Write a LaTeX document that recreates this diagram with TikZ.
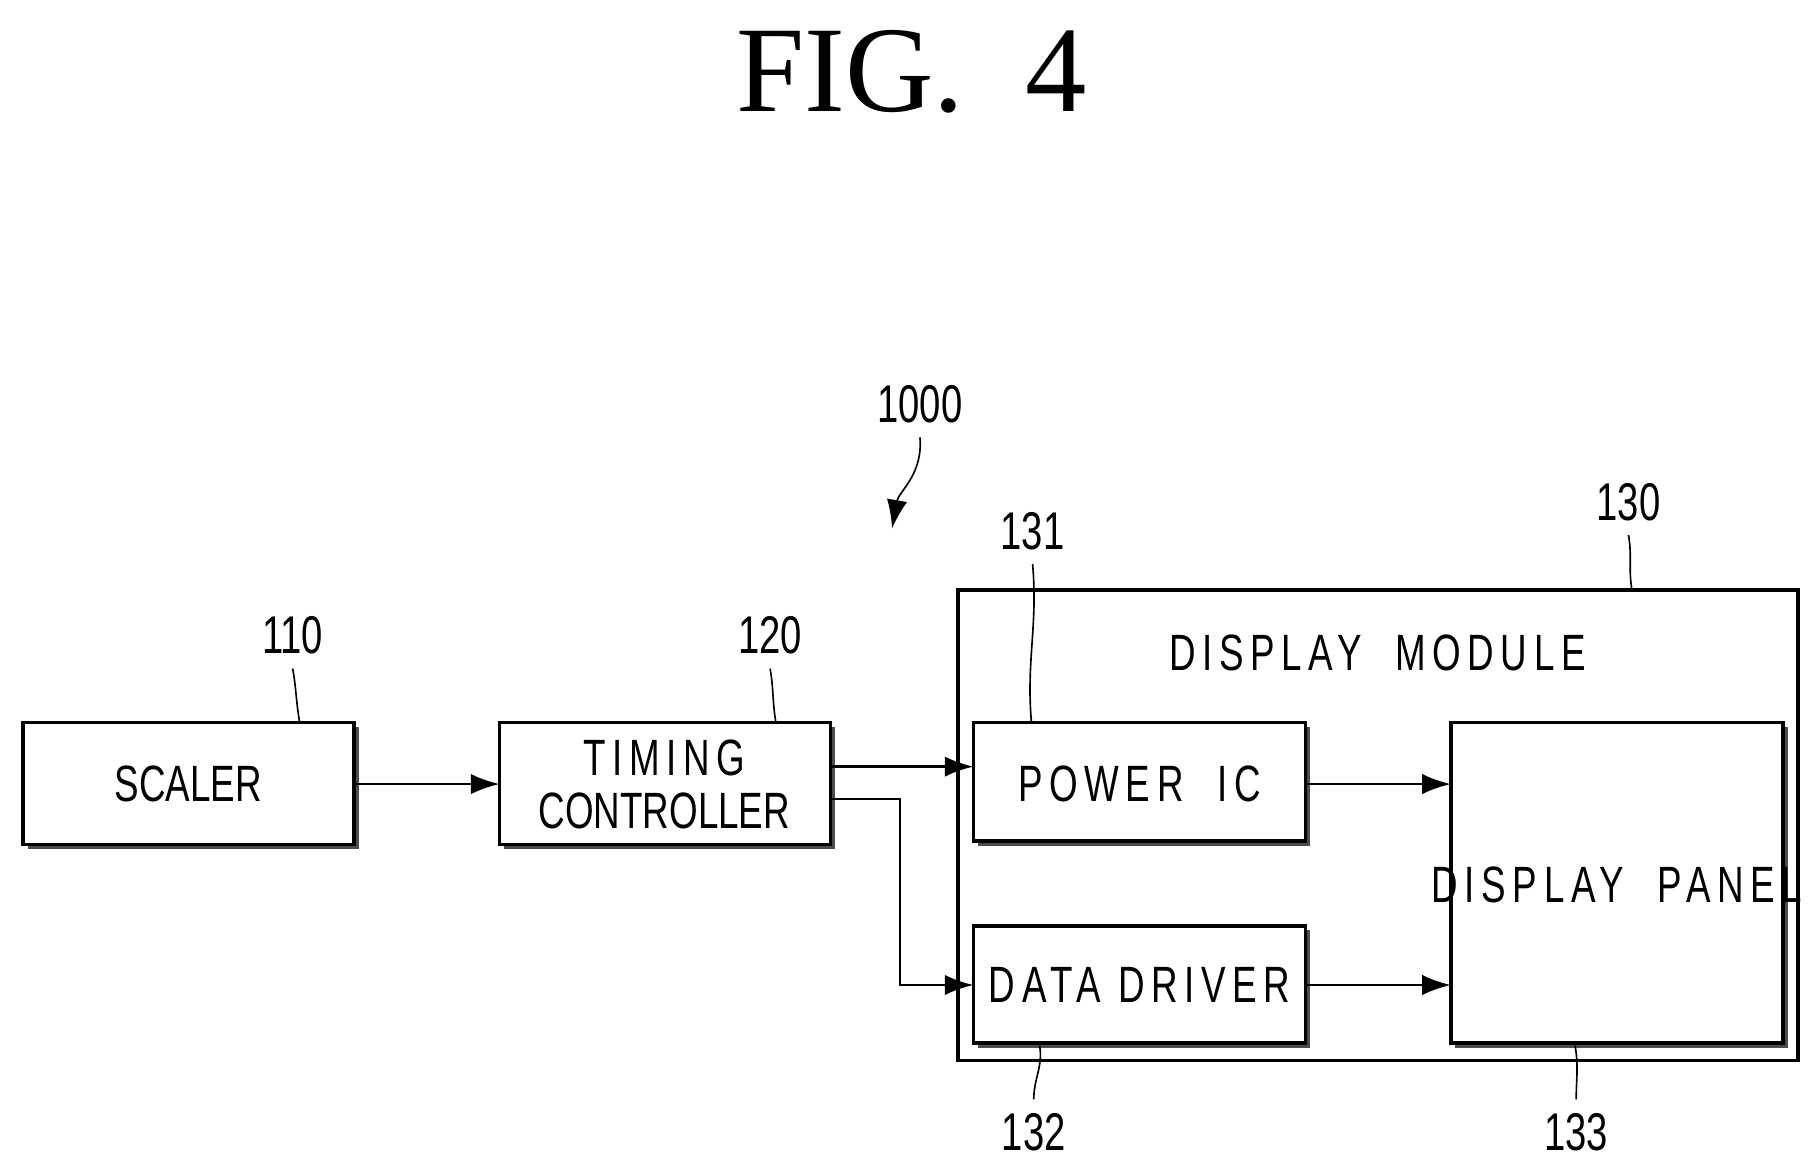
\documentclass[tikz,border=0pt]{standalone}
\usepackage{fontspec}
\setmainfont{Liberation Serif}
\newfontfamily\boxfont{Liberation Sans}
\newfontfamily\spacedfont[LetterSpace=18]{Liberation Sans}
\usetikzlibrary{arrows.meta}
\newcommand{\nar}[1]{\scalebox{0.72}[1]{#1}}

\begin{document}
\begin{tikzpicture}[x=0.01cm,y=-0.01cm,
  blk/.style={draw,line width=0.9pt,fill=white},
  shd/.style={fill=black!70},
  lbl/.style={font=\spacedfont\fontsize{12.5}{16}\selectfont},
  num/.style={font=\boxfont\fontsize{13}{15}\selectfont},
  arr/.style={-{Latex[length=7pt,width=5pt]},line width=0.6pt},
  lead/.style={line width=0.4pt}]
  \useasboundingbox (0,0) rectangle (1560,1005.6);

  \node[font=\fontsize{30}{34}\selectfont] (title) at (785,62) {FIG.\ \ 4};

  % outer module
  \draw[line width=0.9pt] (825,508) rectangle (1548,913);
  \node[lbl] (dm) at (1186,562) {\nar{DISPLAY\ \ MODULE}};

  % blocks with shadow
  \foreach \n/\a/\b/\c/\d in {sc/20/622/305/727, tc/430/622/715/727, pw/838/622/1124/724, dd/838/797/1124/898, dp/1249/622/1535/898}{
    \fill[shd] (\a+4,\b+4) rectangle (\c+4,\d+4);
    \draw[blk] (\a,\b) rectangle (\c,\d);
    \coordinate (\n-nw) at (\a,\b);
    \coordinate (\n-se) at (\c,\d);
  }
  \node[lbl] (scaler) at (162,675) {\nar{\boxfont SCALER}};
  \node[lbl,align=center] (timing) at (572,675) {\nar{TIMING}\\[-3pt]\nar{\boxfont CONTROLLER}};
  \node[lbl] (power) at (981,675) {\nar{POWER\ \ IC}};
  \node[lbl] (driver) at (981,848) {\nar{DATA DRIVER}};
  \node[lbl] (panel) at (1392,762) {\nar{DISPLAY\ \ PANEL}};

  % connectors
  \coordinate (s1) at (305,675);  \coordinate (t1) at (430,675);
  \coordinate (t2) at (715,660);  \coordinate (p1) at (838,660);
  \coordinate (t3) at (715,688);  \coordinate (bend) at (775,688);
  \coordinate (d1) at (838,848);
  \coordinate (p2) at (1124,675); \coordinate (q1) at (1249,675);
  \coordinate (d2) at (1124,848); \coordinate (q2) at (1249,848);
  \draw[arr] (s1) -- (t1);
  \draw[arr] (t2) -- (p1);
  \draw[arr] (t3) -- (bend) |- (d1);
  \draw[arr] (p2) -- (q1);
  \draw[arr] (d2) -- (q2);

  % reference numerals
  \node[num] (n110) at (252,547) {\nar{110}};
  \node[num] (n120) at (663,547) {\nar{120}};
  \node[num] (n131) at (889,457) {\nar{131}};
  \node[num] (n130) at (1402,432) {\nar{130}};
  \node[num] (n132) at (890,975) {\nar{132}};
  \node[num] (n133) at (1357,975) {\nar{133}};
  \node[num] (n1000) at (792,348) {\nar{1000}};
  \draw[lead] (n110.south) to[out=-80,in=100] (258,622);
  \draw[lead] (n120.south) to[out=-80,in=100] (668,622);
  \draw[lead] (n131.south) to[out=-85,in=95] (888,622);
  \draw[lead] (n130.south) to[out=-80,in=100] (1405,508);
  \draw[lead] (n132.north) to[out=90,in=-80] (895,900);
  \draw[lead] (n133.north) to[out=90,in=-80] (1356,900);
  \draw[lead,-{Latex[length=7pt,width=5pt]}] (n1000.south) to[out=-85,in=80] (768,455);
\end{tikzpicture}
\end{document}
